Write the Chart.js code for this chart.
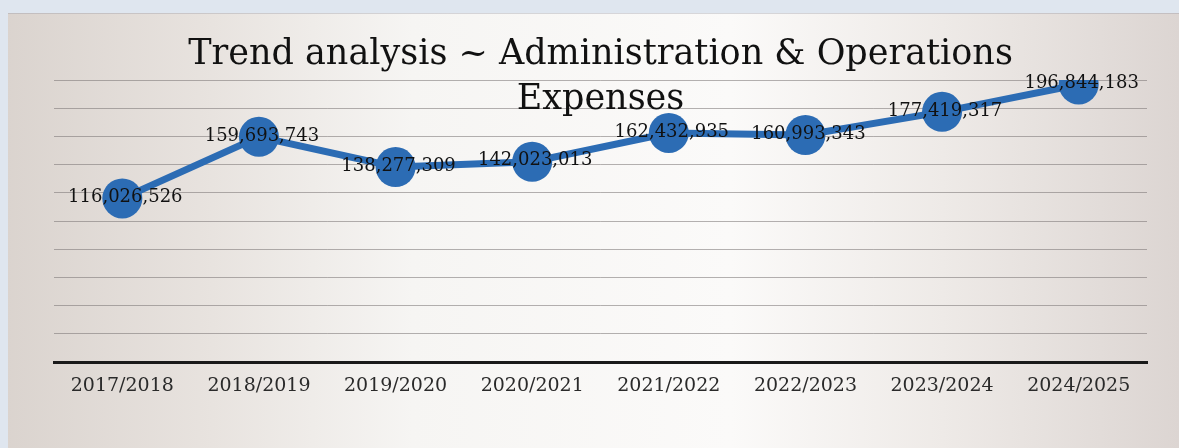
<!DOCTYPE html>
<html>
<head>
<meta charset="utf-8">
<script src="https://cdn.jsdelivr.net/npm/chart.js@4/dist/chart.umd.min.js"></script>
<style>
  html, body { margin: 0; padding: 0; background: #efece8; }
  #wrap { width: 1179px; height: 448px; position: relative; }
</style>
</head>
<body>
<div id="wrap"><canvas id="c" width="1179" height="448"></canvas></div>
<script>
const categories = ["2017/2018", "2018/2019", "2019/2020", "2020/2021", "2021/2022", "2022/2023", "2023/2024", "2024/2025"];
const expenses = [116026526, 159693743, 138277309, 142023013, 162432935, 160993343, 177419317, 196844183];
const titleLines = ["Trend analysis ~ Administration & Operations", "Expenses"];
const yMin = 0;
const yMax = 200000000;
const yStep = 20000000;

const paperBackground = {
  id: 'paperBackground',
  beforeDraw(chart) {
    const ctx = chart.ctx;
    const w = chart.width, h = chart.height;
    ctx.save();
    const g = ctx.createLinearGradient(0, 0, w, 0);
    g.addColorStop(0, '#dad3ce');
    g.addColorStop(0.18, '#e8e3df');
    g.addColorStop(0.35, '#f6f5f3');
    g.addColorStop(0.62, '#fbfaf9');
    g.addColorStop(0.8, '#eeeae7');
    g.addColorStop(1, '#dcd5d2');
    ctx.fillStyle = g;
    ctx.fillRect(0, 0, w, h);
    ctx.fillStyle = '#dfe6ef';
    ctx.fillRect(0, 0, w, 13);
    ctx.fillRect(0, 0, 8, h);
    ctx.fillStyle = 'rgba(150,150,160,0.35)';
    ctx.fillRect(8, 13, w - 8, 1);
    ctx.restore();
  }
};

const pointLabels = {
  id: 'pointLabels',
  afterDatasetsDraw(chart) {
    const ctx = chart.ctx;
    const meta = chart.getDatasetMeta(0);
    ctx.save();
    ctx.font = '18px "DejaVu Serif"';
    ctx.fillStyle = '#111111';
    ctx.textAlign = 'center';
    ctx.textBaseline = 'middle';
    meta.data.forEach((pt, i) => {
      const txt = expenses[i].toLocaleString('en-US');
      ctx.fillText(txt, pt.x + 3, pt.y - 1);
    });
    ctx.restore();
  }
};

new Chart(document.getElementById('c'), {
  type: 'line',
  data: {
    labels: categories,
    datasets: [{
      label: 'Administration & Operations Expenses',
      data: expenses,
      borderColor: '#2c6cb4',
      backgroundColor: '#2c6cb4',
      borderWidth: 7,
      pointRadius: 20,
      pointHoverRadius: 20,
      pointBackgroundColor: '#2c6cb4',
      pointBorderWidth: 0,
      tension: 0,
      fill: false
    }]
  },
  options: {
    responsive: false,
    animation: false,
    events: [],
    layout: { padding: { left: 54, right: 32, top: 0, bottom: 0 } },
    plugins: {
      legend: { display: false },
      tooltip: { enabled: false },
      title: {
        display: true,
        text: titleLines,
        color: '#111111',
        font: { family: '"DejaVu Serif"', size: 35, weight: 'normal', lineHeight: 1.3 },
        padding: { top: 32, bottom: -43 }
      }
    },
    scales: {
      x: {
        offset: true,
        grid: { display: false, drawTicks: false },
        border: { display: true, color: '#1a1a1a', width: 3 },
        ticks: {
          color: '#2a2a2a',
          padding: 13,
          font: { family: '"DejaVu Serif"', size: 19 },
          maxRotation: 0,
          autoSkip: false
        },
        afterFit(scale) { scale.height = 86; }
      },
      y: {
        min: yMin,
        max: yMax,
        ticks: { display: false, stepSize: yStep },
        grid: { color: 'rgba(120,115,115,0.55)', lineWidth: 1, drawTicks: false },
        border: { display: false },
        afterFit(scale) { scale.width = 0; }
      }
    }
  },
  plugins: [paperBackground, pointLabels]
});
</script>
</body>
</html>
